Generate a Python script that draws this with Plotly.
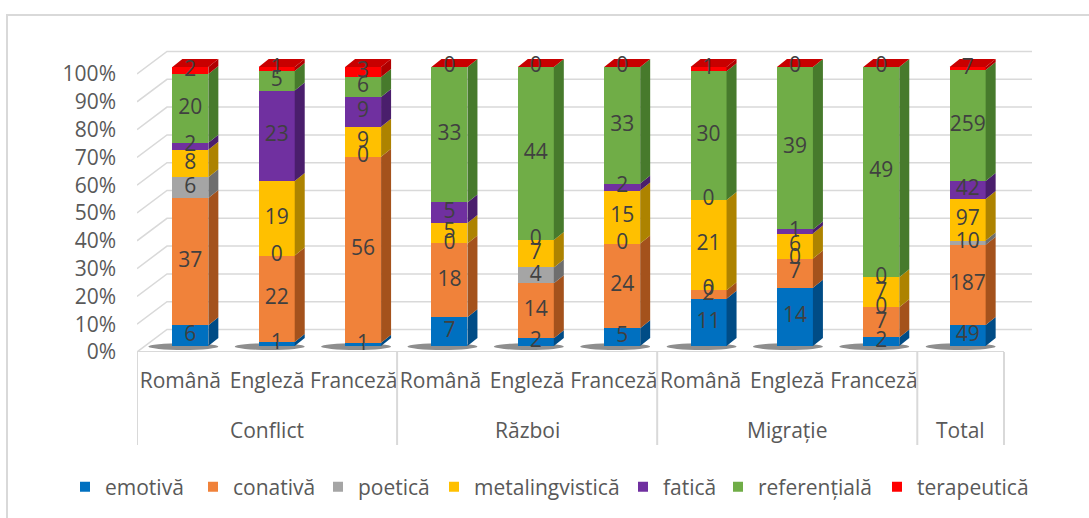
import plotly.graph_objects as go

# ---- data -------------------------------------------------------------
groups = ["Conflict", "Război", "Migrație", "Total"]
group_centers = [1, 4, 7, 9]
languages = ["Română", "Engleză", "Franceză",
             "Română", "Engleză", "Franceză",
             "Română", "Engleză", "Franceză", ""]

series_names = ["emotivă", "conativă", "poetică", "metalingvistică",
                "fatică", "referențială", "terapeutică"]

emotiva = [6, 1, 1, 7, 2, 5, 11, 14, 2, 49]
conativa = [37, 22, 56, 18, 14, 24, 2, 7, 7, 187]
poetica = [6, 0, 0, 0, 4, 0, 0, 0, 0, 10]
metalingvistica = [8, 19, 9, 5, 7, 15, 21, 6, 7, 97]
fatica = [2, 23, 9, 5, 0, 2, 0, 1, 0, 42]
referentiala = [20, 5, 6, 33, 44, 33, 30, 39, 49, 259]
terapeutica = [2, 1, 3, 0, 0, 0, 1, 0, 0, 7]

y_ticks = [0, 10, 20, 30, 40, 50, 60, 70, 80, 90, 100]

series_values = [emotiva, conativa, poetica, metalingvistica,
                 fatica, referentiala, terapeutica]

# ---- styling ------------------------------------------------------------
front_colors = ["#0070C0", "#F0823A", "#A5A5A5", "#FFC000",
                "#7030A0", "#70AD47", "#FF0000"]
side_colors = ["#004C86", "#A4521C", "#6E6E6E", "#AD8300",
               "#4A1E6C", "#477A2C", "#B00000"]
top_color = "#C80000"

FONT = "Open Sans"
AXIS_TXT = "#595959"
LABEL_TXT = "#404040"
GRID = "#D9D9D9"

W_FIG, H_FIG = 1089, 518
M_L, M_R, M_T, M_B = 137, 50, 40, 166
plot_w = W_FIG - M_L - M_R
plot_h = H_FIG - M_T - M_B

CAT_PX = 86.7            # pixels per category
BAR_PX_PER_PCT = 2.79    # bar value scale
BAR_ZERO_PX = 6          # bar base sits above the floor edge
LBL_PX_PER_PCT = 2.78    # value-axis label scale
DEPTH_X_PX, DEPTH_Y_PX = 10, 8
WALL_X_PX, WALL_Y_PX = 30, 22.5
BAR_W_PX = 36

n = len(languages)
x_range = [-0.5, -0.5 + plot_w / CAT_PX]
y_range = [-BAR_ZERO_PX / BAR_PX_PER_PCT, (plot_h - BAR_ZERO_PX) / BAR_PX_PER_PCT]
y2_range = [0, plot_h / LBL_PX_PER_PCT]

bar_w = BAR_W_PX / CAT_PX
dx = DEPTH_X_PX / CAT_PX
dy = DEPTH_Y_PX / BAR_PX_PER_PCT

# perspective: the front faces drift slightly right of the category centre
centers = [i + (10 - 3 * i / (n - 1)) / CAT_PX for i in range(n)]

totals = [sum(s[i] for s in series_values) for i in range(n)]
shares = [[v / t * 100 for v, t in zip(s, totals)] for s in series_values]

fig = go.Figure()

# front faces
for k, name in enumerate(series_names):
    fig.add_trace(go.Bar(
        x=centers, y=shares[k], width=bar_w, name=name,
        marker=dict(color=front_colors[k], line=dict(width=0)),
        showlegend=False, hoverinfo="skip"))

# side faces and top faces
cum = [[0.0] * n]
for k in range(len(series_names)):
    cum.append([cum[-1][i] + shares[k][i] for i in range(n)])

for k in range(len(series_names)):
    xs, ys = [], []
    for i in range(n):
        lo, hi = cum[k][i], cum[k + 1][i]
        if hi - lo <= 0:
            continue
        xr = centers[i] + bar_w / 2
        xs += [xr, xr + dx, xr + dx, xr, xr, None]
        ys += [lo, lo + dy, hi + dy, hi, lo, None]
    fig.add_trace(go.Scatter(
        x=xs, y=ys, mode="lines", fill="toself", fillcolor=side_colors[k],
        line=dict(width=0, color=side_colors[k]), showlegend=False,
        hoverinfo="skip"))

xs, ys = [], []
for i in range(n):
    xl, xr = centers[i] - bar_w / 2, centers[i] + bar_w / 2
    top = cum[-1][i]
    xs += [xl, xr, xr + dx, xl + dx, xl, None]
    ys += [top, top, top + dy, top + dy, top, None]
fig.add_trace(go.Scatter(
    x=xs, y=ys, mode="lines", fill="toself", fillcolor=top_color,
    line=dict(width=0, color=top_color), showlegend=False, hoverinfo="skip"))

# value labels
for k in range(len(series_names)):
    mids = [(cum[k][i] + cum[k + 1][i]) / 2 for i in range(n)]
    fig.add_trace(go.Scatter(
        x=centers, y=mids, mode="text",
        text=[str(v) for v in series_values[k]],
        textfont=dict(family=FONT, size=21, color=LABEL_TXT),
        textposition="middle center", showlegend=False, hoverinfo="skip"))

# value-axis labels live on an overlaid axis with the front-plane scale
fig.add_trace(go.Scatter(x=[None], y=[None], yaxis="y2", showlegend=False,
                         hoverinfo="skip"))

# legend entries, one legend box each
legend_text_x = [107, 235, 360, 476, 665, 760, 919]
legend_layout = {}
for k, name in enumerate(series_names):
    key = "legend" if k == 0 else f"legend{k + 1}"
    fig.add_trace(go.Scatter(
        x=[None], y=[None], mode="markers", name=name, legend=key,
        marker=dict(symbol="square", size=10, color=front_colors[k])))
    legend_layout[key] = dict(
        x=(legend_text_x[k] - 42 - M_L) / plot_w, xanchor="left",
        y=(plot_h - (487 - M_T)) / plot_h, yanchor="middle",
        orientation="h", bgcolor="rgba(0,0,0,0)",
        font=dict(family=FONT, size=21, color=AXIS_TXT),
        itemwidth=30)

# ---- decorations: walls, floor, category dividers, frame --------------
shapes = []
wall_dx = WALL_X_PX / CAT_PX
wall_dy = WALL_Y_PX / LBL_PX_PER_PCT
wall_end = -0.5 + (1032 - M_L) / CAT_PX
for v in y_ticks:
    shapes.append(dict(type="path", xref="x", yref="y2", layer="below",
                       path=f"M {-0.5} {v} L {-0.5 + wall_dx} {v + wall_dy} L {wall_end} {v + wall_dy}",
                       line=dict(color=GRID, width=1.5)))
# floor front edge
shapes.append(dict(type="line", xref="x", yref="y2", layer="below",
                   x0=-0.5, x1=n - 0.5, y0=0, y1=0,
                   line=dict(color=GRID, width=2)))

# bar shadows on the floor
for i in range(n):
    shapes.append(dict(type="circle", xref="x", yref="y", layer="below",
                       x0=centers[i] - bar_w / 2 - 24 / CAT_PX,
                       x1=centers[i] + bar_w / 2 + 10 / CAT_PX,
                       y0=-1.4, y1=1.0,
                       fillcolor="rgba(50,50,50,0.55)", line=dict(width=0)))

div_bottom = (plot_h - (445 - M_T)) / plot_h
for xb in [-0.5, 2.5, 5.5, 8.5, 9.5]:
    shapes.append(dict(type="line", xref="x", yref="paper",
                       x0=xb, x1=xb, y0=0, y1=div_bottom,
                       line=dict(color=GRID, width=2)))

# outer chart frame
shapes.append(dict(type="rect", xref="paper", yref="paper",
                   x0=(7 - M_L) / plot_w, x1=(1120 - M_L) / plot_w,
                   y0=(plot_h - (540 - M_T)) / plot_h,
                   y1=(plot_h - (15 - M_T)) / plot_h,
                   line=dict(color=GRID, width=2), layer="below"))

annotations = []
grp_y = (plot_h - (430 - M_T)) / plot_h
for g, cx in zip(groups, group_centers):
    annotations.append(dict(x=cx, y=grp_y, xref="x", yref="paper",
                            xanchor="center", yanchor="middle",
                            text=g, showarrow=False,
                            font=dict(family=FONT, size=21, color=AXIS_TXT)))

fig.update_layout(
    width=W_FIG, height=H_FIG,
    margin=dict(l=M_L, r=M_R, t=M_T, b=M_B, autoexpand=False),
    paper_bgcolor="white", plot_bgcolor="rgba(0,0,0,0)",
    barmode="stack", bargap=0,
    font=dict(family=FONT, color=AXIS_TXT),
    xaxis=dict(range=x_range, tickmode="array", tickvals=list(range(n)),
               ticktext=languages, showgrid=False, zeroline=False,
               showline=False, ticks="", ticklabelstandoff=14,
               tickfont=dict(family=FONT, size=21, color=AXIS_TXT),
               fixedrange=True),
    yaxis=dict(range=y_range, showgrid=False, zeroline=False,
               showticklabels=False, showline=False, fixedrange=True),
    yaxis2=dict(range=y2_range, overlaying="y", side="left",
                tickmode="array", tickvals=y_ticks,
                ticktext=[f"{v}%" for v in y_ticks],
                showgrid=False, zeroline=False, showline=False, ticks="",
                ticklabelstandoff=20,
                tickfont=dict(family=FONT, size=21, color=AXIS_TXT),
                fixedrange=True),
    shapes=shapes, annotations=annotations,
    **legend_layout,
)

fig.write_html("out.html")
